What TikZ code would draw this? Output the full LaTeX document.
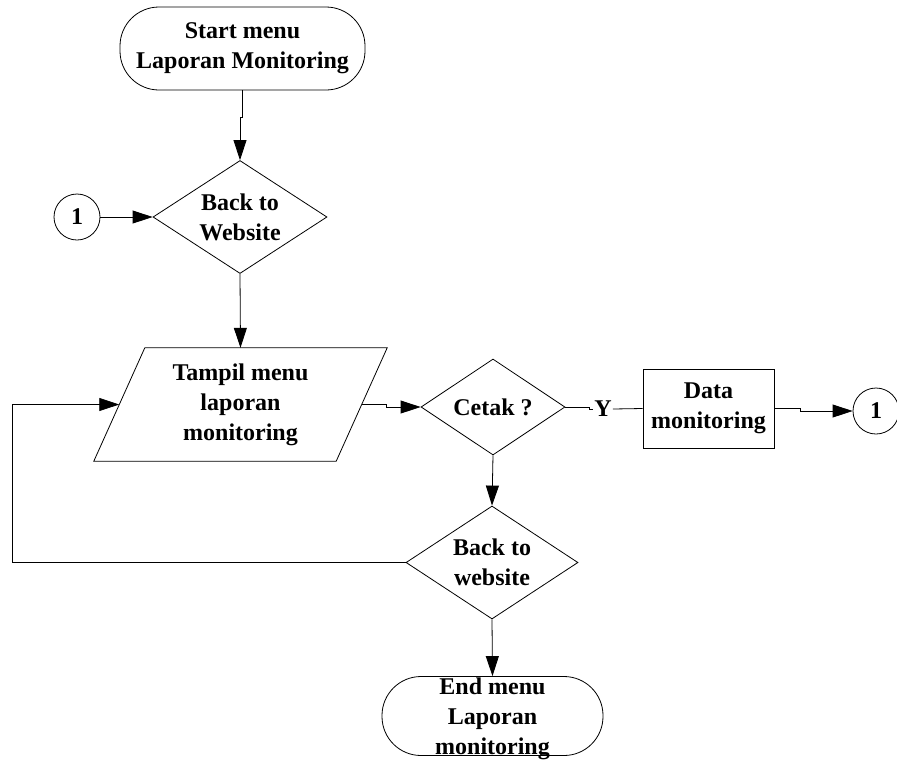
\documentclass[tikz,border=0pt]{standalone}
\usepackage{fontspec}
\setmainfont{Liberation Serif}
\usetikzlibrary{shapes.geometric,arrows.meta,calc}
\begin{document}
\begin{tikzpicture}[x=1pt,y=-1pt,
  every node/.style={font=\bfseries\fontsize{24}{30}\selectfont, align=center, inner sep=0pt},
  line/.style={line width=0.8pt},
  arr/.style={line, -{Triangle[length=20pt,width=13pt]}},
  term/.style={draw, line width=0.8pt, rounded corners=39pt},
  dec/.style={draw, line width=0.8pt, shape=diamond, aspect=1.5},
  box/.style={draw, line width=0.8pt, rectangle},
  conn/.style={draw, line width=0.8pt, circle, minimum size=46pt}]
\useasboundingbox (0,0) rectangle (897,764);

\node[term, minimum width=245pt, minimum height=83pt] (start) at (242.5,48.5) {Start menu\\Laporan Monitoring};
\node[dec, minimum width=174pt, minimum height=113pt] (d1) at (240,217) {Back to\\Website};
\node[conn] (c1) at (77,217) {1};
\node[minimum width=242pt, minimum height=113pt] (tampil) at (240.5,404.5) {Tampil menu\\laporan\\monitoring};
\draw[line] ($(tampil.north west)+(25.5,0)$) -- ($(tampil.north east)+(25.5,0)$) -- ($(tampil.south east)+(-25.5,0)$) -- ($(tampil.south west)+(-25.5,0)$) -- cycle;
\node[dec, minimum width=144pt, minimum height=96pt] (cetak) at (493,407) {Cetak ?};
\node[inner sep=1pt] (ylab) at (603,409) {Y};
\node[box, minimum width=131pt, minimum height=79pt] (data) at (708.5,408.5) {Data\\monitoring};
\node[conn] (c2) at (876,411) {1};
\node[dec, minimum width=172pt, minimum height=113pt] (bw) at (492,562.5) {Back to\\website};
\node[term, minimum width=221pt, minimum height=79pt] (end) at (492.5,716) {};
\node (endtxt) at ($(end.center)+(0,3)$) {End menu\\Laporan\\monitoring};

\draw[arr] (start.south) -- ($(start.south)+(0,27)$) -| (d1.north);
\draw[arr] (c1.east) -- (d1.west);
\draw[arr] (d1.south) -- (tampil.north);
\draw[arr] (tampil.east) -- ++(25,0) |- (cetak.west);
\draw[line] (cetak.east) -- ++(24,0) |- (ylab.west);
\draw[line] (ylab.east) -- (data.west);
\draw[arr] (data.east) -- ++(26,0) |- (c2.west);
\draw[arr] (cetak.south) -- (bw.north);
\draw[arr] (bw.west) -- ++(-393,0) |- (tampil.west);
\draw[arr] (bw.south) -- (end.north);
\end{tikzpicture}
\end{document}
